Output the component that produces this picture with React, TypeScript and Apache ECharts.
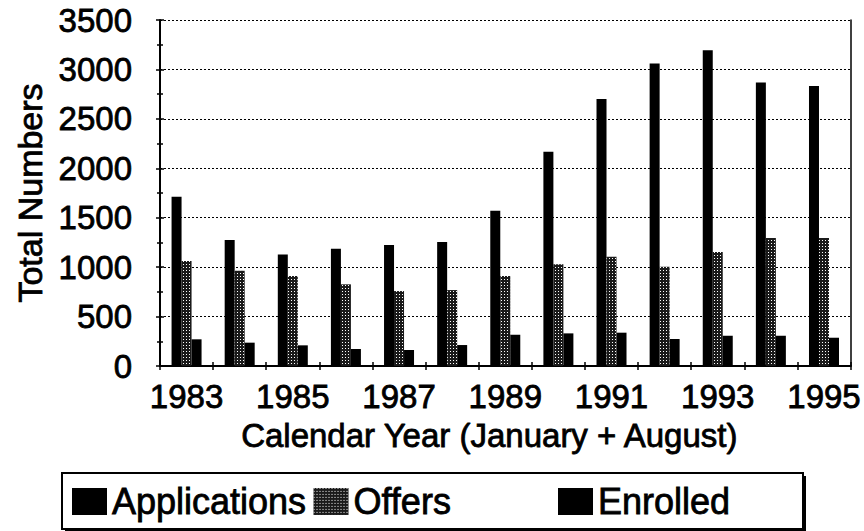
import React, { useEffect, useRef } from "react";
import * as echarts from "echarts";

const years = ["1983", "1984", "1985", "1986", "1987", "1988", "1989", "1990", "1991", "1992", "1993", "1994", "1995"];
const applications = [1712, 1274, 1129, 1186, 1223, 1254, 1570, 2167, 2700, 3061, 3195, 2868, 2832];
const offers = [1062, 964, 910, 826, 758, 768, 910, 1028, 1105, 1004, 1153, 1294, 1294];
const enrolled = [270, 236, 209, 172, 162, 212, 317, 330, 337, 273, 306, 306, 286];
const seriesNames = ["Applications", "Offers", "Enrolled"];
const yTitle = "Total Numbers";
const xTitle = "Calendar Year (January + August)";

const FONT = "'Liberation Sans', Arial, sans-serif";
const thick = { textBorderColor: "#000", textBorderWidth: 0.8 };

export default function App() {
  const ref = useRef<HTMLDivElement>(null);
  useEffect(() => {
    if (!ref.current) return;
    const chart = echarts.init(ref.current, undefined, { renderer: "svg" });
    const yCommon = { type: "value", min: 0, max: 3500, interval: 500 };
    const offersDecal = {
      symbol: "rect",
      symbolSize: 1,
      color: "#ffffff",
      dashArrayX: [1, 1.5],
      dashArrayY: [1, 1.5],
      rotation: 0,
    };
    const legendText = { fontFamily: FONT, fontSize: 36, color: "#000", lineHeight: 36, ...thick };
    chart.setOption({
      animation: false,
      backgroundColor: "#ffffff",
      textStyle: { fontFamily: FONT, color: "#000" },
      grid: { left: 160, right: 11, top: 20, bottom: 165, containLabel: false },
      legend: [
        {
          data: [seriesNames[0], seriesNames[1]],
          left: 72,
          top: 483,
          padding: 0,
          itemGap: 7,
          itemWidth: 35,
          itemHeight: 27,
          icon: "rect",
          textStyle: legendText,
        },
        {
          data: [seriesNames[2]],
          left: 558,
          top: 483,
          padding: 0,
          itemWidth: 35,
          itemHeight: 27,
          icon: "rect",
          textStyle: legendText,
        },
      ],
      graphic: [
        { type: "rect", shape: { x: 65, y: 476, width: 741, height: 56 }, style: { fill: "#000" }, z: -2 },
        { type: "rect", shape: { x: 62, y: 473, width: 741, height: 56 }, style: { fill: "#fff", stroke: "#000", lineWidth: 2 }, z: -1 },
      ],
      xAxis: [
        {
          type: "category",
          data: years,
          position: "bottom",
          axisLine: { show: true, lineStyle: { color: "#000", width: 2 } },
          axisTick: { show: true, interval: 0, length: 4, lineStyle: { color: "#000", width: 1.5 } },
          axisLabel: { interval: 1, fontSize: 33, color: "#000", fontFamily: FONT, margin: 14, ...thick },
          splitLine: { show: false },
          name: xTitle,
          nameLocation: "middle",
          nameGap: 50,
          nameTextStyle: { fontSize: 33, color: "#000", fontFamily: FONT, padding: [0, 32, 0, 0], ...thick },
        },
        {
          type: "category",
          data: years,
          position: "bottom",
          axisLine: { show: false },
          axisTick: { show: true, inside: true, interval: 0, length: 4, lineStyle: { color: "#000", width: 1.5 } },
          axisLabel: { show: false },
          splitLine: { show: false },
        },
        {
          type: "category",
          data: years,
          position: "top",
          axisLine: { show: true, lineStyle: { color: "#000", width: 2 } },
          axisTick: { show: false },
          axisLabel: { show: false },
          splitLine: { show: false },
        },
      ],
      yAxis: [
        {
          ...yCommon,
          position: "left",
          axisLine: { show: true, lineStyle: { color: "#000", width: 2 } },
          axisTick: { show: true, length: 4, lineStyle: { color: "#000", width: 1.5 } },
          minorTick: { show: true, splitNumber: 2, length: 3, lineStyle: { color: "#000", width: 1.5 } },
          axisLabel: {
            fontSize: 33,
            color: "#000",
            fontFamily: FONT,
            margin: 28,
            formatter: (v: number) => String(v),
            ...thick,
          },
          splitLine: { show: true, lineStyle: { color: "#000", width: 1.2, type: [2, 2] } },
          name: yTitle,
          nameLocation: "middle",
          nameGap: 112,
          nameTextStyle: { fontSize: 34, color: "#000", fontFamily: FONT, ...thick },
        },
        {
          ...yCommon,
          position: "left",
          axisLine: { show: false },
          axisTick: { show: true, inside: true, length: 4, lineStyle: { color: "#000", width: 1.5 } },
          minorTick: { show: true, splitNumber: 2, length: 3, lineStyle: { color: "#000", width: 1.5 } },
          axisLabel: { show: false },
          splitLine: { show: false },
        },
        {
          ...yCommon,
          position: "right",
          axisLine: { show: true, lineStyle: { color: "#000", width: 1.5 } },
          axisTick: { show: false },
          axisLabel: { show: false },
          splitLine: { show: false },
        },
      ],
      series: [
        {
          name: seriesNames[0],
          type: "bar",
          data: applications,
          barWidth: 10,
          barGap: "0%",
          itemStyle: { color: "#000" },
        },
        {
          name: seriesNames[1],
          type: "bar",
          data: offers,
          barWidth: 10,
          barGap: "0%",
          itemStyle: { color: "#1a1a1a", decal: offersDecal },
        },
        {
          name: seriesNames[2],
          type: "bar",
          data: enrolled,
          barWidth: 10,
          barGap: "0%",
          itemStyle: { color: "#000" },
        },
      ],
    });
    return () => chart.dispose();
  }, []);
  return <div ref={ref} style={{ position: "fixed", left: 0, top: 0, width: 864, height: 531 }} />;
}
